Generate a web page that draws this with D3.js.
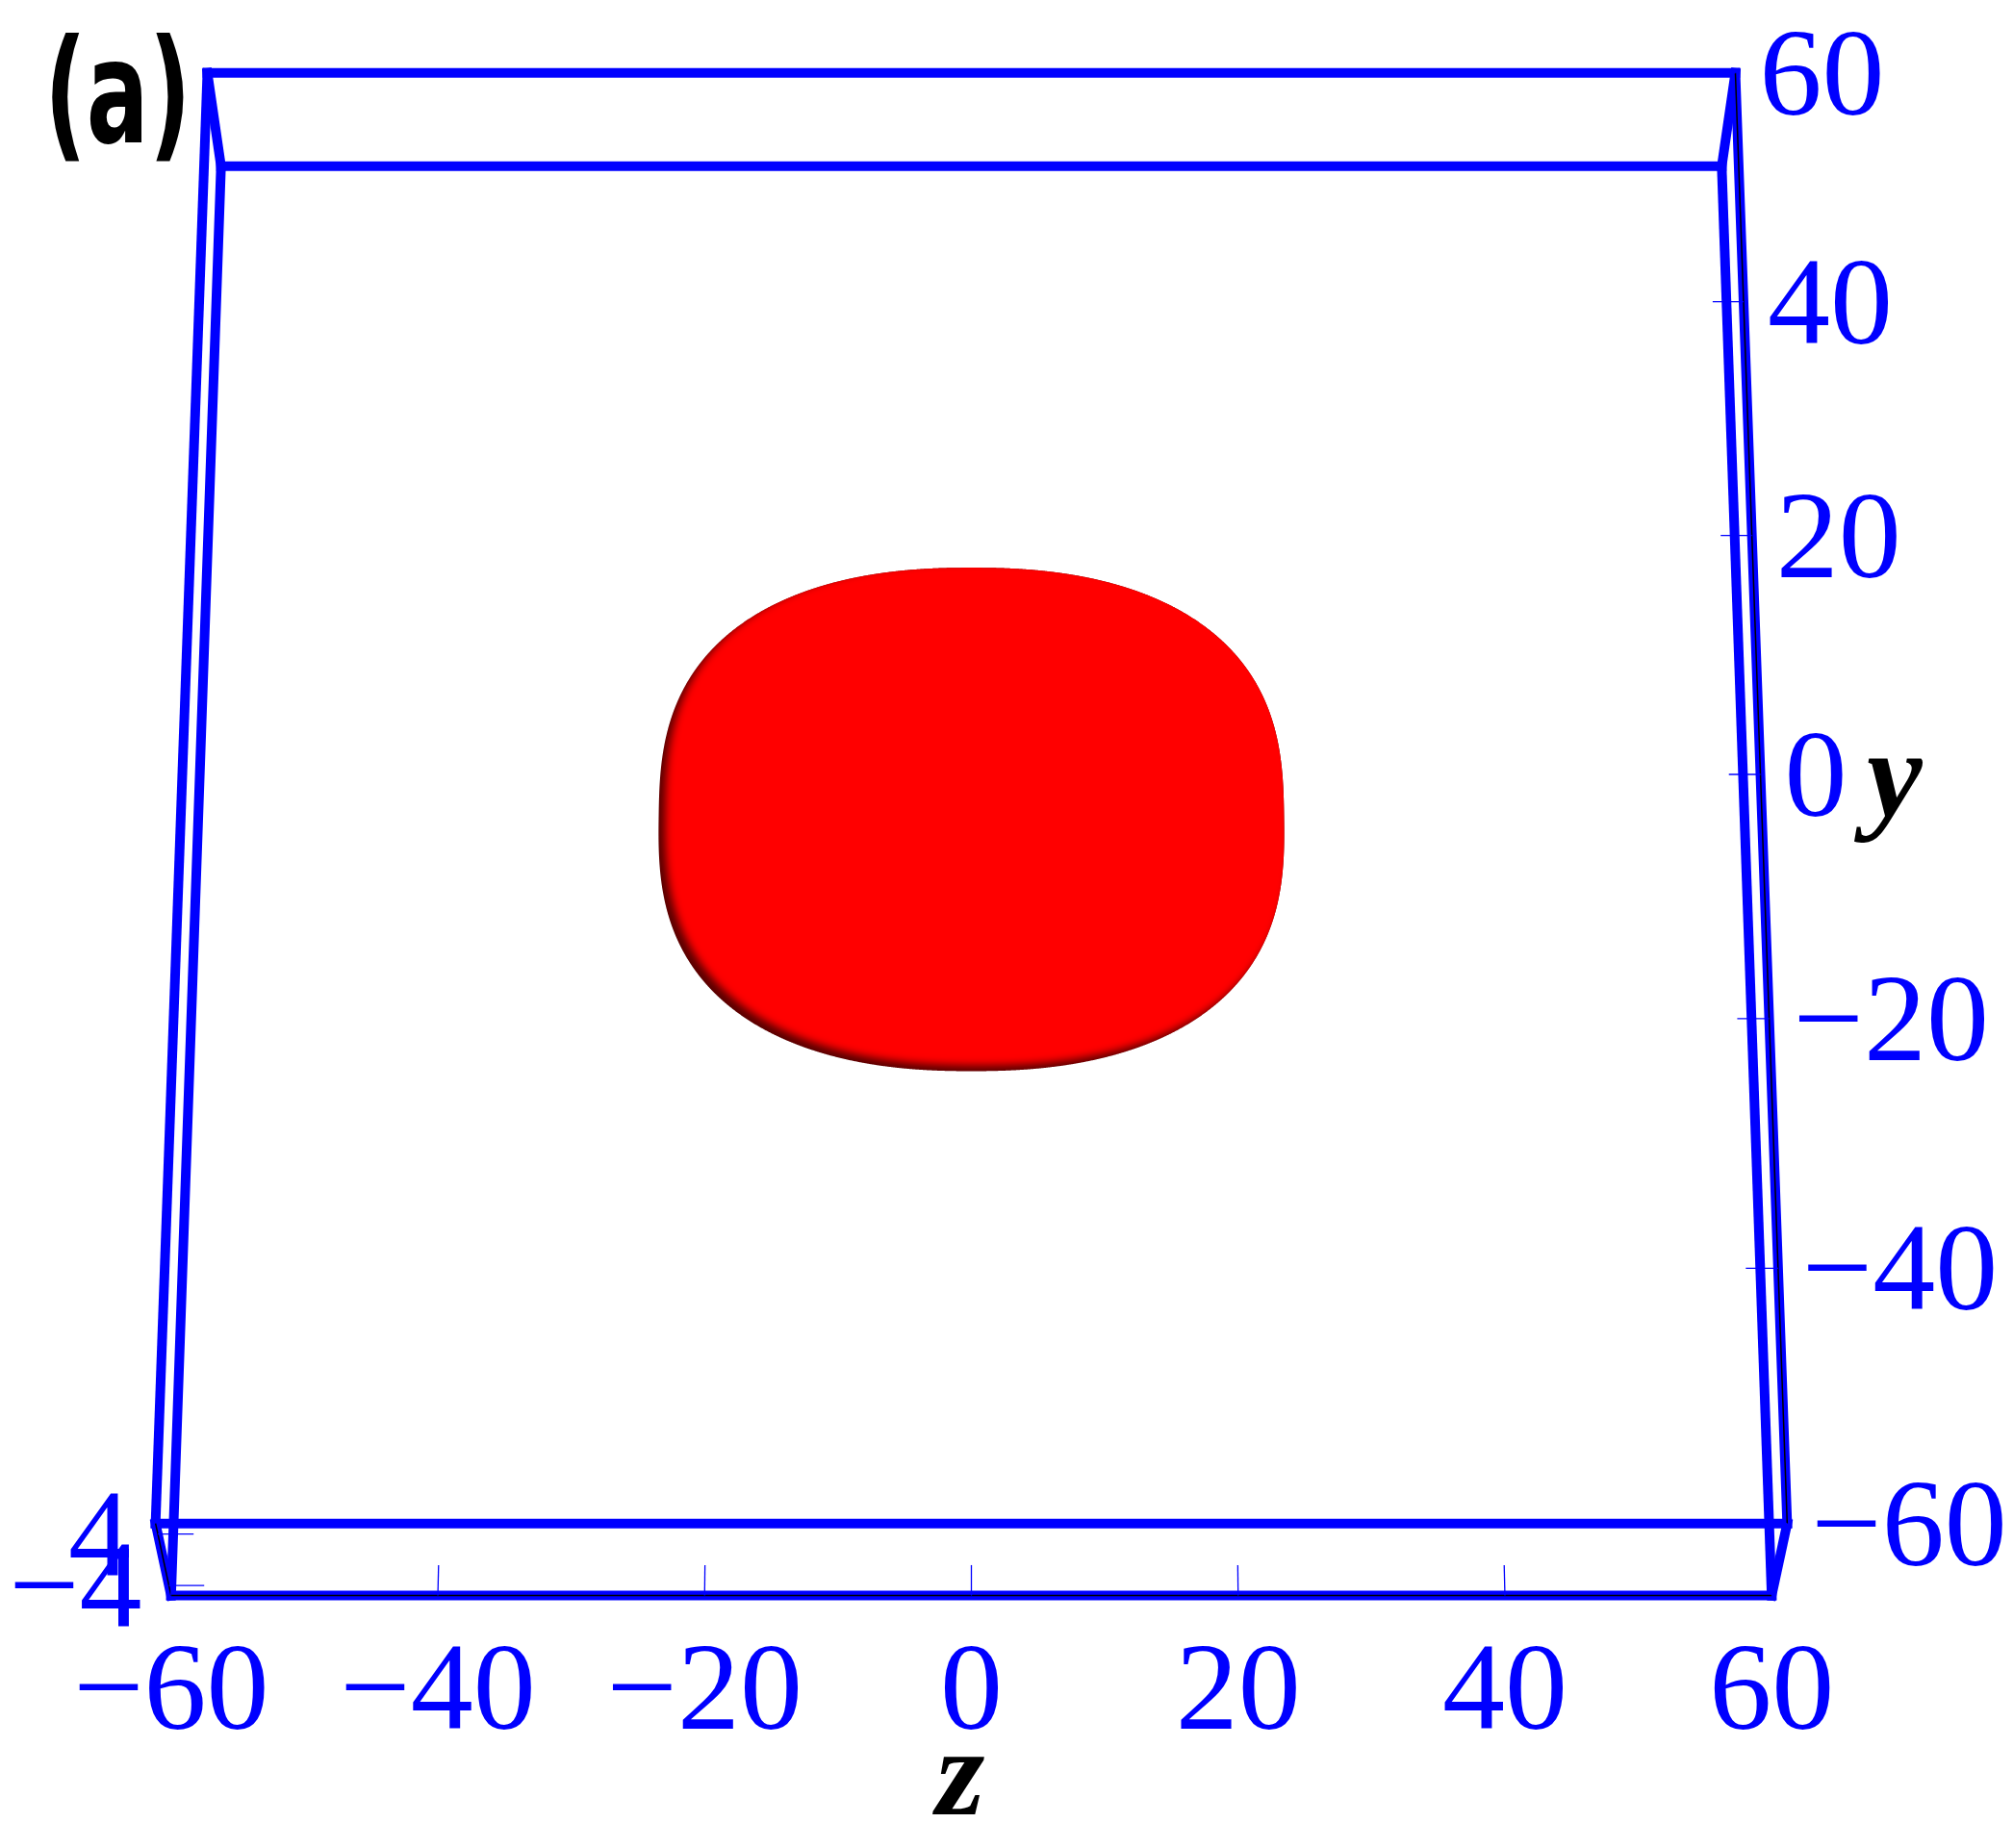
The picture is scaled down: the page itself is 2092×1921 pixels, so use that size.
<!DOCTYPE html>
<html>
<head>
<meta charset="utf-8">
<script src="https://cdn.jsdelivr.net/npm/d3@7"></script>
<style>
  body { margin: 0; background: #fff; }
</style>
</head>
<body>
<script>
// box (plot range) and ticks
var xRange = [-5.6, 5.6],
    yRange = [-60, 60],
    zRange = [-60, 60];
var xTicks = [-4, 4],
    yTicks = [-60, -40, -20, 0, 20, 40, 60],
    zTicks = [-60, -40, -20, 0, 20, 40, 60];
// soliton cross-section seen along x: half-widths and powers in z and y
var blobZ = 24, blobY = 21, blobPowZ = 2.3, blobPowY = 2.7;

var width = 2092, height = 1921;
var svg = d3.select("body").append("svg").attr("width", width).attr("height", height);

// perspective camera, one scale per axis for numerators and the divisor
var cx = 1009.5, v0 = 848.8;
var hz = d3.scaleLinear().domain(zRange).range([-812.4, 812.4]);
var vy = d3.scaleLinear().domain(yRange).range([720, -720]);
var vx = d3.scaleLinear().domain(xRange).range([51.3, -51.3]);
var wy = d3.scaleLinear().domain(yRange).range([-0.0325, 0.0325]);
var wx = d3.scaleLinear().domain(xRange).range([0.0093, -0.0093]);

function proj(x, y, z) {
    var w = 1 + wy(y) + wx(x);
    return [cx + hz(z) / w, (v0 + vy(y) + vx(x)) / w];
}
var line = d3.line();
var fmt = d => d < 0 ? "\u2212" + Math.abs(d) : String(d);
var serif = "'Liberation Serif', 'Times New Roman', serif";

// soliton
var blobPts = d3.range(0, 360, 0.1).map(a => {
    var t = a * Math.PI / 180, c = Math.cos(t), s = Math.sin(t);
    var z = blobZ * Math.sign(c) * Math.pow(Math.abs(c), 2 / blobPowZ);
    var y = blobY * Math.sign(s) * Math.pow(Math.abs(s), 2 / blobPowY);
    return proj(0, y, z);
});
var blobD = line.curve(d3.curveLinearClosed)(blobPts);
line.curve(d3.curveLinear);

var defs = svg.append("defs");
defs.append("clipPath").attr("id", "blobClip").append("path").attr("d", blobD);
defs.append("filter").attr("id", "soft")
    .attr("x", "-20%").attr("y", "-20%").attr("width", "140%").attr("height", "140%")
    .append("feGaussianBlur").attr("stdDeviation", 4);

var gb = svg.append("g");
gb.append("path").attr("d", blobD).attr("fill", "#5a0000");
gb.append("g").attr("clip-path", "url(#blobClip)")
  .append("path").attr("d", blobD).attr("fill", "#ff0000")
    .attr("transform", "translate(7,-6)").attr("filter", "url(#soft)");

// box edges
var X = xRange, Y = yRange, Z = zRange;
var edges = [];
[0, 1].forEach(a => [0, 1].forEach(b => {
    edges.push([[X[0], Y[a], Z[b]], [X[1], Y[a], Z[b]]]);
    edges.push([[X[a], Y[0], Z[b]], [X[a], Y[1], Z[b]]]);
    edges.push([[X[a], Y[b], Z[0]], [X[a], Y[b], Z[1]]]);
}));
svg.append("g").selectAll("path").data(edges).enter().append("path")
    .attr("d", e => line(e.map(p => proj(p[0], p[1], p[2]))))
    .attr("fill", "none").attr("stroke", "#0000ff")
    .attr("stroke-width", 10).attr("stroke-linecap", "square");

// axis lines (thin black)
var axes = [
    [[X[0], Y[0], Z[0]], [X[0], Y[0], Z[1]]],
    [[X[1], Y[0], Z[1]], [X[1], Y[1], Z[1]]],
    [[X[0], Y[0], Z[0]], [X[1], Y[0], Z[0]]]
];
svg.append("g").selectAll("path").data(axes).enter().append("path")
    .attr("d", e => line(e.map(p => proj(p[0], p[1], p[2]))))
    .attr("fill", "none").attr("stroke", "#000").attr("stroke-width", 1.5);

// ticks
var tk = 2.4;
var ticks = []
    .concat(zTicks.map(z => [[X[0], Y[0], z], [X[0], Y[0] + tk, z]]))
    .concat(yTicks.map(y => [[X[1], y, Z[1]], [X[1], y, Z[1] - tk]]))
    .concat(xTicks.map(x => [[x, Y[0], Z[0]], [x, Y[0], Z[0] + tk * 1.1]]));
svg.append("g").selectAll("path").data(ticks).enter().append("path")
    .attr("d", e => line(e.map(p => proj(p[0], p[1], p[2]))))
    .attr("fill", "none").attr("stroke", "#0000ff").attr("stroke-width", 1.3);

// tick labels
var fs = 130;
var lab = svg.append("g").attr("font-family", serif)
    .attr("font-size", fs).attr("fill", "#0000ff");
lab.selectAll(".zl").data(zTicks).enter().append("text")
    .attr("x", d => proj(X[0], Y[0], d)[0])
    .attr("y", d => proj(X[0], Y[0], d)[1] + 138)
    .attr("text-anchor", "middle").text(fmt);
lab.selectAll(".yl").data(yTicks).enter().append("text")
    .attr("x", d => proj(X[1], d, Z[1])[0] + 25)
    .attr("y", d => proj(X[1], d, Z[1])[1] + 43)
    .attr("text-anchor", "start").text(fmt);
lab.selectAll(".xl").data(xTicks).enter().append("text")
    .attr("x", d => proj(d, Y[0], Z[0])[0] - 28)
    .attr("y", d => proj(d, Y[0], Z[0])[1] + 43)
    .attr("text-anchor", "end").text(fmt);

// axis titles
svg.append("text").attr("x", 998).attr("y", 1886)
    .attr("text-anchor", "middle")
    .attr("font-family", serif).attr("font-style", "italic")
    .attr("font-weight", "bold").attr("font-size", fs).text("z");
svg.append("text").attr("x", 1940).attr("y", 848)
    .attr("font-family", serif).attr("font-style", "italic")
    .attr("font-weight", "bold").attr("font-size", fs).text("y");

// panel tag
svg.append("text").attr("transform", "translate(46,148) scale(0.64,1)")
    .attr("font-family", "DejaVu Sans").attr("font-weight", "bold")
    .attr("font-size", 150).text("(a)");
</script>
</body>
</html>
